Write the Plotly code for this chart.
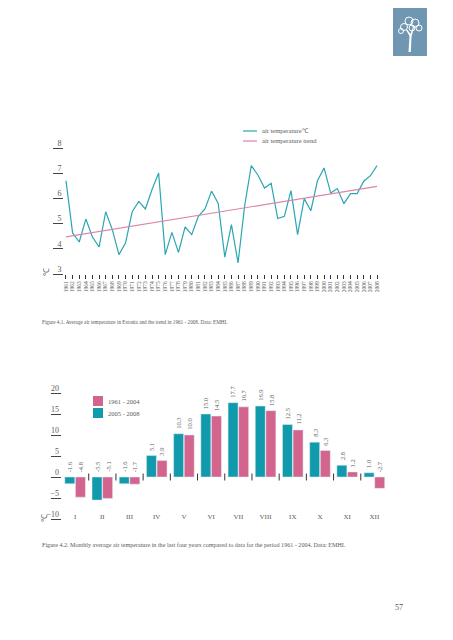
import plotly.graph_objects as go

# ---------------- data ----------------
years = list(range(1961, 2009))
air_temp = [6.70, 4.63, 4.27, 5.18, 4.47, 4.07, 5.47, 4.76, 3.77, 4.23,
            5.47, 5.88, 5.58, 6.35, 7.01, 3.77, 4.65, 3.86, 4.87, 4.56,
            5.29, 5.58, 6.29, 5.80, 3.67, 4.96, 3.44, 5.71, 7.30, 6.93,
            6.41, 6.60, 5.20, 5.29, 6.31, 4.56, 5.99, 5.51, 6.70, 7.21,
            6.21, 6.39, 5.79, 6.19, 6.19, 6.68, 6.90, 7.30]
trend_years = [1961, 2008]
trend_vals = [4.47, 6.48]
line_names = ["air temperature℃", "air temperature trend"]

months = ["I", "II", "III", "IV", "V", "VI", "VII", "VIII", "IX", "X", "XI", "XII"]
t_2005_2008 = [-1.6, -5.5, -1.6, 5.1, 10.3, 15.0, 17.7, 16.9, 12.5, 8.3, 2.8, 1.0]
t_1961_2004 = [-4.8, -5.1, -1.7, 3.9, 10.0, 14.5, 16.7, 15.8, 11.2, 6.3, 1.2, -2.7]
bar_names = ["2005 - 2008", "1961 - 2004"]

caption1 = "Figure 4.1. Average air temperature in Estonia and the trend in 1961 - 2008. Data: EMHI."
caption2 = ("Figure 4.2. Monthly average air temperature in the last four years compared "
            "to data for the period 1961 - 2004. Data: EMHI.")

# ---------------- style ----------------
W, H = 453, 640
OX, OY = 8, 8  # the page body offsets the figure
FONT = "Liberation Serif"
TXT = "#5a5a5a"
TEAL_LINE = "#2aa6b2"
PINK_LINE = "#dc86a8"
TEAL = "#1199ac"
PINK = "#d2648e"


def px(x):
    return (x - OX) / W


def py(y):
    return 1 - (y - OY) / H


fig = go.Figure()

# top chart
fig.add_trace(go.Scatter(x=years, y=air_temp, mode="lines", name=line_names[0],
                         line=dict(color=TEAL_LINE, width=1.2), xaxis="x", yaxis="y"))
fig.add_trace(go.Scatter(x=trend_years, y=trend_vals, mode="lines", name=line_names[1],
                         line=dict(color=PINK_LINE, width=1.2), xaxis="x", yaxis="y"))

# bottom chart
xi = list(range(len(months)))
fig.add_trace(go.Bar(x=xi, y=t_2005_2008, name=bar_names[0], marker_color=TEAL,
                     xaxis="x2", yaxis="y2"))
fig.add_trace(go.Bar(x=xi, y=t_1961_2004, name=bar_names[1], marker_color=PINK,
                     xaxis="x2", yaxis="y2"))
# small ticks on the zero line between months
fig.add_trace(go.Scatter(x=[i + 0.5 for i in xi[:-1]], y=[0] * (len(xi) - 1), mode="markers",
                         marker=dict(symbol="line-ns", size=5, line=dict(color="#333", width=1)),
                         xaxis="x2", yaxis="y2", hoverinfo="skip"))

annotations = []
off = 0.195
for i, (a, b) in enumerate(zip(t_2005_2008, t_1961_2004)):
    for dx, v in ((-off, a), (off, b)):
        annotations.append(dict(x=i + dx, y=max(v, 0), xref="x2", yref="y2",
                                text=f"{v:.1f}", showarrow=False, textangle=-90,
                                xanchor="center", yanchor="bottom", yshift=3,
                                font=dict(family=FONT, size=6.5, color=TXT)))

small = dict(family=FONT, size=6.5, color=TXT)
shapes = []


def label(x, y, text, font, xanchor="center", angle=0):
    annotations.append(dict(x=px(x), y=py(y), xref="paper", yref="paper", text=text,
                            showarrow=False, xanchor=xanchor, yanchor="middle",
                            textangle=angle, font=font))


# custom legend: top chart
for nm, col, yy in zip(line_names, [TEAL_LINE, PINK_LINE], [131, 141]):
    shapes.append(dict(type="line", xref="paper", yref="paper", x0=px(243), x1=px(257),
                       y0=py(yy), y1=py(yy), line=dict(color=col, width=1.2)))
    label(260, yy, nm, small, xanchor="left")
# custom legend: bottom chart (1961-2004 listed first)
for nm, col, yy in [(bar_names[1], PINK, 401), (bar_names[0], TEAL, 413)]:
    shapes.append(dict(type="rect", xref="paper", yref="paper", x0=px(93), x1=px(103),
                       y0=py(yy + 5), y1=py(yy - 5), fillcolor=col, line=dict(width=0)))
    label(106, yy, nm, small, xanchor="left")

# unit labels
label(46, 272, "℃", dict(family=FONT, size=8, color=TXT), angle=-90)
label(44, 518, "℃", dict(family=FONT, size=8, color=TXT), angle=-90)
# captions
label(40, 322, caption1, dict(family=FONT, size=5.2, color=TXT), xanchor="left")
label(40, 545, caption2, dict(family=FONT, size=6.1, color=TXT), xanchor="left")
# page number
label(399, 607, "57", dict(family=FONT, size=8, color=TXT))

# logo block with a simple tree
shapes.append(dict(type="rect", xref="paper", yref="paper", x0=px(393), x1=px(427),
                   y0=py(56), y1=py(0), fillcolor="#6f97b2", line=dict(width=0), layer="below"))
shapes.append(dict(type="path", xref="paper", yref="paper",
                   path=(f"M {px(408.5)} {py(52)} L {px(409.5)} {py(36)} L {px(406)} {py(30)} "
                         f"L {px(407.5)} {py(30)} L {px(410.5)} {py(34)} L {px(413)} {py(27)} "
                         f"L {px(414)} {py(27)} L {px(411.5)} {py(37)} L {px(410.8)} {py(52)} Z"),
                   fillcolor="white", line=dict(width=0)))
for cx, cy, r in [(404, 27, 3.5), (409, 21, 4), (415, 23, 4), (419, 28, 3), (412, 28, 3),
                  (401, 31, 2.5)]:
    shapes.append(dict(type="circle", xref="paper", yref="paper",
                       x0=px(cx - r), x1=px(cx + r), y0=py(cy + r), y1=py(cy - r),
                       fillcolor="rgba(0,0,0,0)", line=dict(color="white", width=1)))

yax_common = dict(showgrid=False, zeroline=False, showline=False, ticks="outside",
                  ticklen=10, tickwidth=1, tickcolor="#444", ticklabelstandoff=-10,
                  ticklabelshift=-5, automargin=False,
                  tickfont=dict(family=FONT, size=8, color=TXT))

fig.update_layout(
    width=W, height=H, autosize=False,
    margin=dict(l=0, r=0, t=0, b=0, pad=0),
    showlegend=False,
    paper_bgcolor="white", plot_bgcolor="white",
    font=dict(family=FONT, color=TXT),
    barmode="group", bargap=0.22, bargroupgap=0.06,
    xaxis=dict(domain=[px(64), px(379)], range=[1960.7, 2008.3], anchor="y",
               tickmode="array", tickvals=years, ticktext=[str(y) for y in years],
               tickangle=-90, ticks="outside", ticklen=4, tickcolor="#333",
               showgrid=False, zeroline=False, showline=False, automargin=False,
               tickfont=dict(family=FONT, size=5.5, color=TXT)),
    yaxis=dict(domain=[py(274), py(148)], range=[3, 8], dtick=1, anchor="x", **yax_common),
    xaxis2=dict(domain=[px(61.5), px(388)], range=[-0.5, 11.5], anchor="y2",
                tickmode="array", tickvals=xi, ticktext=months, ticks="",
                ticklabelstandoff=-8, automargin=False,
                showgrid=False, zeroline=False, showline=False,
                tickfont=dict(family=FONT, size=7, color=TXT)),
    yaxis2=dict(domain=[py(519), py(393)], range=[-10, 20], dtick=5, anchor="x2", **yax_common),
    annotations=annotations,
    shapes=shapes,
)

fig.write_html("out.html")
